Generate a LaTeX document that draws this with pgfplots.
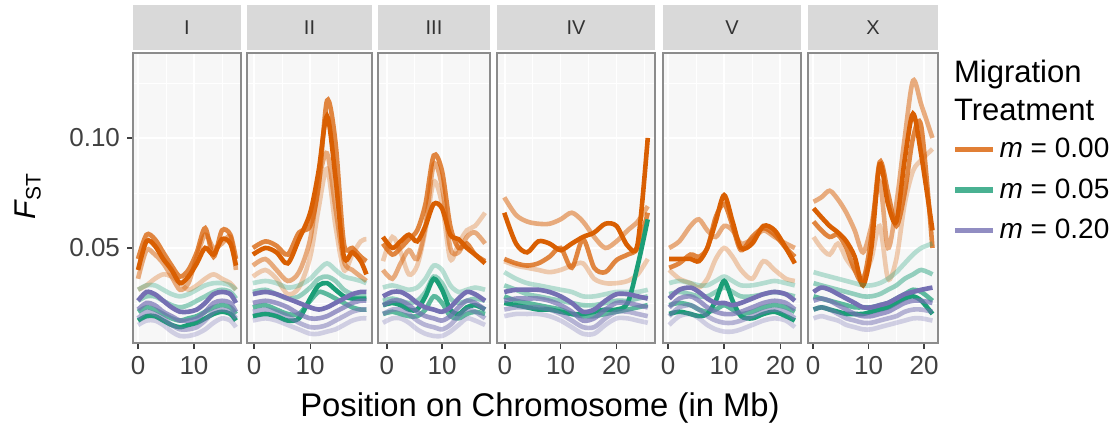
\documentclass[border=0pt]{standalone}
\usepackage{fontspec}
\setmainfont{Liberation Sans}
\usepackage{pgfplots}
\usepackage{pgfplotstable}
\pgfplotsset{compat=1.18}
\definecolor{orng}{HTML}{D95F02}
\definecolor{grn}{HTML}{1B9E77}
\definecolor{prp}{HTML}{7570B3}
\definecolor{panelbg}{HTML}{F7F7F7}
\definecolor{stripbg}{HTML}{D9D9D9}
\definecolor{bordergray}{HTML}{8C8C8C}
\definecolor{tickgray}{HTML}{404040}
\definecolor{striptext}{HTML}{333333}

\pgfplotstableread{
x o1 o2 o3 o4 g1 g2 g3 g4 p1 p2 p3 p4
0 0.040 0.045 0.036 0.031 0.031 0.026 0.021 0.017 0.026 0.022 0.018 0.015
1.5 0.053 0.056 0.049 0.033 0.033 0.028 0.023 0.019 0.030 0.025 0.021 0.017
3 0.051 0.054 0.047 0.036 0.033 0.028 0.022 0.019 0.029 0.024 0.020 0.017
4.5 0.045 0.048 0.043 0.038 0.031 0.026 0.020 0.017 0.026 0.021 0.018 0.015
6 0.040 0.042 0.037 0.037 0.029 0.024 0.018 0.015 0.023 0.019 0.015 0.012
7.5 0.034 0.037 0.031 0.034 0.028 0.023 0.017 0.014 0.021 0.017 0.013 0.010
9 0.037 0.040 0.034 0.031 0.029 0.024 0.018 0.015 0.021 0.017 0.013 0.010
10.5 0.043 0.048 0.046 0.033 0.031 0.026 0.019 0.016 0.022 0.018 0.014 0.011
12 0.050 0.059 0.056 0.036 0.033 0.028 0.021 0.018 0.025 0.021 0.017 0.013
13.5 0.047 0.046 0.050 0.038 0.034 0.030 0.023 0.020 0.029 0.025 0.021 0.016
15 0.054 0.058 0.052 0.036 0.034 0.031 0.024 0.021 0.030 0.026 0.022 0.018
16.5 0.052 0.056 0.055 0.034 0.033 0.030 0.023 0.020 0.029 0.025 0.021 0.017
17.5 0.042 0.045 0.040 0.031 0.031 0.027 0.020 0.017 0.025 0.021 0.018 0.014
}\tblI

\pgfplotstableread{
x o1 o2 o3 o4 g1 g2 g3 g4 p1 p2 p3 p4
-0.2 0.047 0.050 0.042 0.037 0.034 0.030 0.023 0.019 0.029 0.025 0.021 0.017
2 0.050 0.053 0.045 0.040 0.035 0.031 0.024 0.020 0.030 0.026 0.022 0.018
4 0.048 0.051 0.040 0.036 0.034 0.029 0.022 0.019 0.029 0.025 0.021 0.017
6 0.043 0.047 0.035 0.029 0.032 0.027 0.020 0.017 0.027 0.023 0.019 0.015
8 0.054 0.057 0.039 0.032 0.033 0.028 0.020 0.018 0.025 0.020 0.016 0.013
10 0.066 0.060 0.054 0.046 0.036 0.032 0.026 0.027 0.023 0.018 0.014 0.011
11.5 0.085 0.078 0.080 0.068 0.040 0.036 0.030 0.033 0.022 0.018 0.014 0.011
13 0.110 0.117 0.093 0.086 0.043 0.037 0.029 0.034 0.023 0.019 0.015 0.012
14.5 0.082 0.098 0.068 0.060 0.040 0.035 0.027 0.031 0.025 0.021 0.017 0.013
16 0.046 0.052 0.044 0.040 0.037 0.031 0.025 0.028 0.027 0.023 0.019 0.015
17.5 0.048 0.050 0.040 0.047 0.036 0.029 0.023 0.027 0.029 0.025 0.021 0.017
19 0.044 0.046 0.037 0.053 0.035 0.028 0.022 0.027 0.030 0.026 0.022 0.018
20 0.038 0.044 0.035 0.054 0.034 0.028 0.022 0.027 0.030 0.026 0.022 0.018
}\tblII

\pgfplotstableread{
x o1 o2 o3 o4 g1 g2 g3 g4 p1 p2 p3 p4
-0.7 0.055 0.052 0.040 0.044 0.032 0.026 0.020 0.024 0.028 0.024 0.020 0.016
1 0.050 0.047 0.036 0.055 0.033 0.027 0.021 0.025 0.030 0.026 0.022 0.018
2.5 0.053 0.050 0.043 0.048 0.032 0.026 0.020 0.024 0.030 0.026 0.022 0.018
4 0.056 0.054 0.049 0.038 0.031 0.025 0.019 0.022 0.028 0.024 0.020 0.016
5.5 0.053 0.058 0.045 0.042 0.032 0.026 0.019 0.022 0.025 0.021 0.017 0.013
7 0.060 0.070 0.060 0.058 0.036 0.030 0.022 0.028 0.023 0.019 0.015 0.011
8.5 0.070 0.092 0.088 0.080 0.042 0.037 0.028 0.036 0.022 0.018 0.014 0.010
10 0.068 0.085 0.078 0.070 0.040 0.034 0.025 0.031 0.021 0.017 0.013 0.010
11.5 0.056 0.060 0.050 0.045 0.033 0.027 0.019 0.022 0.023 0.019 0.015 0.012
13 0.054 0.050 0.048 0.052 0.030 0.025 0.018 0.020 0.027 0.023 0.019 0.015
14.5 0.050 0.052 0.055 0.058 0.031 0.026 0.020 0.023 0.030 0.026 0.022 0.018
16 0.047 0.047 0.057 0.060 0.032 0.027 0.021 0.024 0.029 0.025 0.021 0.017
17.8 0.043 0.044 0.052 0.066 0.031 0.026 0.020 0.022 0.026 0.022 0.018 0.015
}\tblIII

\pgfplotstableread{
x o1 o2 o3 o4 g1 g2 g3 g4 p1 p2 p3 p4
-0.1 0.066 0.045 0.073 0.044 0.039 0.033 0.028 0.025 0.030 0.026 0.022 0.019
2 0.052 0.043 0.065 0.042 0.036 0.031 0.026 0.024 0.031 0.027 0.023 0.020
4 0.048 0.042 0.062 0.041 0.034 0.029 0.025 0.023 0.031 0.027 0.023 0.020
6 0.053 0.043 0.061 0.040 0.033 0.028 0.024 0.022 0.031 0.027 0.023 0.020
8 0.052 0.046 0.061 0.039 0.032 0.027 0.023 0.022 0.030 0.026 0.022 0.019
10 0.049 0.050 0.063 0.040 0.031 0.026 0.022 0.021 0.028 0.024 0.020 0.017
12 0.052 0.041 0.066 0.042 0.030 0.025 0.020 0.020 0.025 0.021 0.017 0.014
14 0.055 0.054 0.062 0.043 0.028 0.024 0.019 0.020 0.021 0.017 0.014 0.011
16 0.057 0.041 0.055 0.036 0.028 0.024 0.019 0.021 0.022 0.018 0.014 0.011
18 0.061 0.039 0.050 0.034 0.029 0.025 0.020 0.022 0.026 0.022 0.018 0.015
20 0.060 0.0445 0.053 0.034 0.030 0.026 0.021 0.022 0.029 0.025 0.021 0.018
22 0.051 0.047 0.058 0.035 0.030 0.026 0.022 0.025 0.029 0.025 0.021 0.018
23.8 0.052 0.050 0.062 0.038 0.030 0.027 0.023 0.042 0.028 0.024 0.020 0.017
25.6 0.100 0.066 0.069 0.045 0.031 0.028 0.024 0.063 0.027 0.023 0.019 0.016
}\tblIV

\pgfplotstableread{
x o1 o2 o3 o4 g1 g2 g3 g4 p1 p2 p3 p4
0.2 0.045 0.041 0.050 0.040 0.034 0.029 0.024 0.020 0.027 0.023 0.019 0.015
2 0.045 0.043 0.053 0.036 0.035 0.030 0.025 0.021 0.031 0.027 0.023 0.019
4 0.045 0.047 0.060 0.034 0.034 0.029 0.024 0.020 0.032 0.028 0.024 0.020
5.5 0.044 0.046 0.063 0.032 0.033 0.028 0.022 0.019 0.030 0.026 0.022 0.018
7 0.050 0.050 0.058 0.036 0.033 0.028 0.021 0.020 0.027 0.023 0.019 0.015
8.5 0.062 0.064 0.055 0.045 0.035 0.030 0.022 0.026 0.025 0.021 0.017 0.013
10 0.074 0.070 0.060 0.050 0.037 0.032 0.024 0.035 0.025 0.020 0.016 0.012
11.5 0.062 0.060 0.058 0.046 0.035 0.030 0.022 0.026 0.024 0.020 0.016 0.012
13 0.050 0.049 0.052 0.040 0.033 0.028 0.020 0.019 0.025 0.021 0.017 0.013
15 0.052 0.055 0.054 0.036 0.033 0.028 0.021 0.018 0.027 0.023 0.019 0.015
17 0.060 0.059 0.058 0.044 0.034 0.029 0.023 0.020 0.029 0.025 0.021 0.017
19 0.058 0.056 0.055 0.040 0.035 0.030 0.024 0.021 0.030 0.026 0.022 0.018
21 0.050 0.050 0.052 0.036 0.034 0.029 0.023 0.019 0.029 0.025 0.021 0.017
22.6 0.043 0.046 0.050 0.035 0.033 0.028 0.021 0.017 0.026 0.022 0.018 0.014
}\tblV

\pgfplotstableread{
x o1 o2 o3 o4 g1 g2 g3 g4 p1 p2 p3 p4
0.1 0.068 0.062 0.071 0.055 0.039 0.034 0.028 0.022 0.030 0.026 0.022 0.018
1.5 0.064 0.058 0.073 0.050 0.038 0.033 0.027 0.023 0.032 0.027 0.023 0.019
3 0.060 0.055 0.076 0.047 0.037 0.032 0.026 0.022 0.031 0.026 0.022 0.018
4.5 0.057 0.056 0.072 0.052 0.036 0.031 0.025 0.021 0.029 0.024 0.020 0.017
6 0.053 0.050 0.066 0.045 0.035 0.030 0.024 0.020 0.027 0.022 0.018 0.015
7.5 0.046 0.040 0.058 0.040 0.034 0.029 0.023 0.020 0.025 0.020 0.017 0.014
9 0.033 0.035 0.048 0.037 0.033 0.028 0.023 0.020 0.023 0.019 0.016 0.013
10.5 0.050 0.055 0.060 0.045 0.033 0.028 0.023 0.021 0.023 0.019 0.016 0.013
12 0.088 0.089 0.080 0.060 0.034 0.029 0.024 0.022 0.024 0.020 0.017 0.014
13.5 0.070 0.075 0.050 0.036 0.036 0.031 0.025 0.023 0.025 0.021 0.018 0.015
15 0.062 0.060 0.070 0.045 0.039 0.033 0.027 0.025 0.027 0.023 0.019 0.016
16.5 0.090 0.075 0.100 0.070 0.043 0.036 0.029 0.027 0.029 0.025 0.021 0.017
18 0.111 0.100 0.126 0.085 0.047 0.038 0.031 0.028 0.030 0.026 0.022 0.018
19.5 0.092 0.105 0.115 0.090 0.050 0.040 0.030 0.026 0.031 0.026 0.022 0.018
21.5 0.058 0.050 0.100 0.095 0.052 0.038 0.026 0.020 0.032 0.025 0.021 0.017
}\tblX

\pgfplotsset{
  panel/.style={
    scale only axis, height=145pt, ymin=0.0068, ymax=0.1386,
    scaled y ticks=false, scaled x ticks=false,
    axis background/.style={fill=panelbg},
    axis line style={draw=bordergray, line width=0.7pt},
    ytick={0.05,0.1}, minor ytick={0.025,0.075,0.125},
    grid=both,
    major grid style={draw=white, line width=0.8pt},
    minor grid style={draw=white, line width=0.4pt},
    minor tick length=0pt, major tick length=3pt,
    tick align=outside, xtick pos=bottom, ytick pos=left,
    tick style={draw=tickgray, line width=0.7pt},
    tick label style={font=\fontsize{13}{13}\selectfont, text=tickgray},
    /pgf/number format/assume math mode=true,
    yticklabels={}, ytick style={draw=none},
  },
  ln/.style={smooth, tension=0.5, line width=2.3pt, forget plot, mark=none},
}

\newcommand{\drawpanel}[1]{%
  \addplot[ln, draw=orng, draw opacity=0.3] table[x=x,y=o4]{#1};
  \addplot[ln, draw=orng, draw opacity=0.5] table[x=x,y=o3]{#1};
  \addplot[ln, draw=orng, draw opacity=0.75] table[x=x,y=o2]{#1};
  \addplot[ln, draw=orng] table[x=x,y=o1]{#1};
  \addplot[ln, draw=grn, draw opacity=0.3] table[x=x,y=g1]{#1};
  \addplot[ln, draw=grn, draw opacity=0.45] table[x=x,y=g2]{#1};
  \addplot[ln, draw=grn, draw opacity=0.7] table[x=x,y=g3]{#1};
  \addplot[ln, draw=grn] table[x=x,y=g4]{#1};
  \addplot[ln, draw=prp, draw opacity=0.3] table[x=x,y=p4]{#1};
  \addplot[ln, draw=prp, draw opacity=0.5] table[x=x,y=p3]{#1};
  \addplot[ln, draw=prp, draw opacity=0.7] table[x=x,y=p2]{#1};
  \addplot[ln, draw=prp] table[x=x,y=p1]{#1};
}

\begin{document}
\begin{tikzpicture}
\useasboundingbox (0,0) rectangle (558.5pt,-214.5pt);

\begin{axis}[panel, at={(66.5pt,-171.5pt)}, anchor=south west, width=54pt,
  xmin=-0.9, xmax=18.4, xtick={0,10}, minor xtick={5,15},
  ytick style={draw=tickgray, line width=0.7pt},
  yticklabels={0.05,0.10}]
\drawpanel{\tblI}
\end{axis}

\begin{axis}[panel, at={(123.5pt,-171.5pt)}, anchor=south west, width=62.5pt,
  xmin=-1.25, xmax=21, xtick={0,10}, minor xtick={5,15}]
\drawpanel{\tblII}
\end{axis}

\begin{axis}[panel, at={(189pt,-171.5pt)}, anchor=south west, width=56pt,
  xmin=-1.6, xmax=18.7, xtick={0,10}, minor xtick={5,15}]
\drawpanel{\tblIII}
\end{axis}

\begin{axis}[panel, at={(248.5pt,-171.5pt)}, anchor=south west, width=79pt,
  xmin=-1.4, xmax=26.9, xtick={0,10,20}, minor xtick={5,15,25}]
\drawpanel{\tblIV}
\end{axis}

\begin{axis}[panel, at={(331.5pt,-171.5pt)}, anchor=south west, width=69pt,
  xmin=-0.9, xmax=23.7, xtick={0,10,20}, minor xtick={5,15}]
\drawpanel{\tblV}
\end{axis}

\begin{axis}[panel, at={(404pt,-171.5pt)}, anchor=south west, width=65pt,
  xmin=-0.9, xmax=22.5, xtick={0,10,20}, minor xtick={5,15},
  legend style={at={(1.1077,0.5276)}, anchor=west, draw=none, fill=none,
    inner sep=0pt, font=\fontsize{14}{16}\selectfont, row sep=5pt},
  legend cell align=left,
  legend image code/.code={\draw[line width=2.6pt,#1] (0pt,0pt) -- (19pt,0pt);}]
\addlegendimage{draw=orng, draw opacity=0.8}
\addlegendentry{\textit{m} = 0.00}
\addlegendimage{draw=grn, draw opacity=0.8}
\addlegendentry{\textit{m} = 0.05}
\addlegendimage{draw=prp, draw opacity=0.8}
\addlegendentry{\textit{m} = 0.20}
\drawpanel{\tblX}
\end{axis}

% facet strips
\fill[stripbg] (66.5pt,-2.5pt) rectangle (120.5pt,-25pt);
\fill[stripbg] (123.5pt,-2.5pt) rectangle (186pt,-25pt);
\fill[stripbg] (189pt,-2.5pt) rectangle (245pt,-25pt);
\fill[stripbg] (248.5pt,-2.5pt) rectangle (327.5pt,-25pt);
\fill[stripbg] (331.5pt,-2.5pt) rectangle (400.5pt,-25pt);
\fill[stripbg] (404pt,-2.5pt) rectangle (469pt,-25pt);
\begin{scope}[every node/.style={text=striptext, font=\fontsize{10}{10}\selectfont}]
\node at (93.5pt,-13.75pt) {I};
\node at (154.75pt,-13.75pt) {II};
\node at (217pt,-13.75pt) {III};
\node at (288pt,-13.75pt) {IV};
\node at (366pt,-13.75pt) {V};
\node at (436.5pt,-13.75pt) {X};
\end{scope}

\node[rotate=90] at (14pt,-98pt) {\fontsize{15}{15}\selectfont\textit{F}\textsubscript{ST}};
\node at (270pt,-204pt) {\fontsize{16.4}{16.4}\selectfont Position on Chromosome (in Mb)};
\node[anchor=base west] at (473.5pt,-41pt) {\fontsize{15.5}{15.5}\selectfont Migration};
\node[anchor=base west] at (473.5pt,-60pt) {\fontsize{15.5}{15.5}\selectfont Treatment};
\end{tikzpicture}
\end{document}
